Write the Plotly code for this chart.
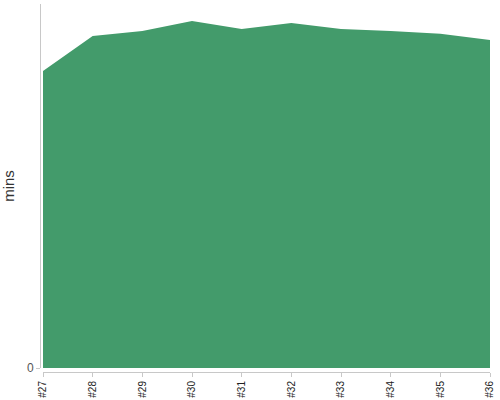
import plotly.graph_objs as go

# Data
builds = ["#27", "#28", "#29", "#30", "#31", "#32", "#33", "#34", "#35", "#36"]
minutes = [81.6, 91.2, 92.6, 95.3, 93.1, 94.8, 93.1, 92.6, 91.8, 90.1]

fill_color = "#439b6b"
axis_color = "#c8c8c8"

fig = go.Figure()
fig.add_trace(
    go.Scatter(
        x=list(range(len(builds))),
        y=minutes,
        mode="lines",
        fill="tozeroy",
        fillcolor=fill_color,
        line=dict(color=fill_color, width=0),
        hoverinfo="skip",
        showlegend=False,
    )
)

fig.update_layout(
    width=500,
    height=400,
    margin=dict(l=40, r=10, t=4, b=28),
    plot_bgcolor="white",
    paper_bgcolor="white",
    font=dict(family="Liberation Sans, Arial, sans-serif", color="#444"),
    xaxis=dict(
        domain=[3 / 450, 1],
        anchor="free",
        position=0,
        automargin=False,
        range=[0, len(builds) - 1],
        tickvals=list(range(len(builds))),
        ticktext=builds,
        tickangle=-90,
        tickfont=dict(size=10, color="#222"),
        ticks="outside",
        ticklen=4,
        tickcolor=axis_color,
        showline=True,
        linecolor=axis_color,
        linewidth=1,
        showgrid=False,
        zeroline=False,
    ),
    yaxis=dict(
        domain=[4 / 368, 1],
        anchor="free",
        position=0,
        automargin=False,
        range=[0, 100],
        tickvals=[0],
        ticktext=["0"],
        tickfont=dict(size=12, color="#555"),
        ticks="outside",
        ticklen=4,
        tickcolor=axis_color,
        showline=True,
        linecolor=axis_color,
        linewidth=1,
        showgrid=False,
        zeroline=False,
        title=dict(text="mins", font=dict(size=15, color="#333"), standoff=11),
    ),
)

# page body has a default 8px margin; drop it so the 500x400 figure fills the window
fig.write_html(
    "out.html",
    config={"displayModeBar": False},
    post_script="document.body.style.margin = '0';",
)
